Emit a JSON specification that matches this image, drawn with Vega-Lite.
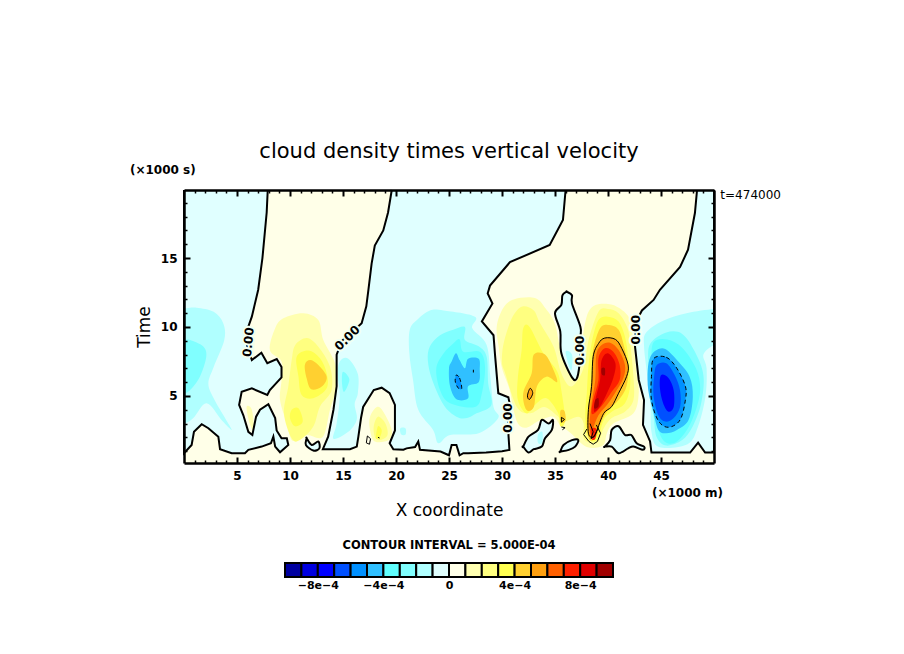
{"$schema":"https://vega.github.io/schema/vega-lite/v6.json","autosize":"none","padding":{"left":184,"top":190,"right":720,"bottom":464},"background":"white","config":{"font":"DejaVu Sans","view":{"stroke":null},"title":{"font":"DejaVu Sans","color":"black"},"axis":{"labelColor":"black","titleColor":"black","grid":false}},"bounds":"flush","center":true,"spacing":100,"datasets":{"polys":[
{"k":"base","v":0.5,"x":0,"y":0.14},{"k":"base","v":0.5,"x":50,"y":0.14},{"k":"base","v":0.5,"x":50,"y":19.93},{"k":"base","v":0.5,"x":0,"y":19.93},
{"k":"A","v":-0.5,"x":7.9,"y":19.93},{"k":"A","v":-0.5,"x":7.8,"y":18.3},{"k":"A","v":-0.5,"x":7.4,"y":15},{"k":"A","v":-0.5,"x":7,"y":12.7},{"k":"A","v":-0.5,"x":6.4,"y":10.75},{"k":"A","v":-0.5,"x":5.9,"y":9.66},{"k":"A","v":-0.5,"x":5.9,"y":8.8},{"k":"A","v":-0.5,"x":6.4,"y":7.6},{"k":"A","v":-0.5,"x":7.3,"y":8.14},{"k":"A","v":-0.5,"x":7.86,"y":7.37},{"k":"A","v":-0.5,"x":8.75,"y":7.68},{"k":"A","v":-0.5,"x":9.2,"y":7.1},{"k":"A","v":-0.5,"x":9.2,"y":6.35},{"k":"A","v":-0.5,"x":8.1,"y":5.43},{"k":"A","v":-0.5,"x":7.86,"y":5.07},{"k":"A","v":-0.5,"x":6.4,"y":5.55},{"k":"A","v":-0.5,"x":5.44,"y":5.3},{"k":"A","v":-0.5,"x":5.2,"y":4.35},{"k":"A","v":-0.5,"x":5.6,"y":3.6},{"k":"A","v":-0.5,"x":6.07,"y":2.4},{"k":"A","v":-0.5,"x":6.45,"y":2.17},{"k":"A","v":-0.5,"x":6.8,"y":3.5},{"k":"A","v":-0.5,"x":7.17,"y":4},{"k":"A","v":-0.5,"x":7.96,"y":4.4},{"k":"A","v":-0.5,"x":8.6,"y":3.4},{"k":"A","v":-0.5,"x":8.74,"y":2.5},{"k":"A","v":-0.5,"x":9.2,"y":1.93},{"k":"A","v":-0.5,"x":9.7,"y":1.93},{"k":"A","v":-0.5,"x":9.84,"y":1.45},{"k":"A","v":-0.5,"x":9.06,"y":0.92},{"k":"A","v":-0.5,"x":8.6,"y":1.33},{"k":"A","v":-0.5,"x":8.43,"y":2.05},{"k":"A","v":-0.5,"x":8.2,"y":1.57},{"k":"A","v":-0.5,"x":7.33,"y":1.33},{"k":"A","v":-0.5,"x":6.07,"y":1.09},{"k":"A","v":-0.5,"x":5.75,"y":0.85},{"k":"A","v":-0.5,"x":4.5,"y":0.85},{"k":"A","v":-0.5,"x":3.4,"y":1.14},{"k":"A","v":-0.5,"x":3.24,"y":2.05},{"k":"A","v":-0.5,"x":2.3,"y":2.66},{"k":"A","v":-0.5,"x":1.67,"y":2.95},{"k":"A","v":-0.5,"x":0.94,"y":2.4},{"k":"A","v":-0.5,"x":0.72,"y":1.45},{"k":"A","v":-0.5,"x":0,"y":0.85},{"k":"A","v":-0.5,"x":0,"y":19.93},
{"k":"B","v":-0.5,"x":19.6,"y":19.93},{"k":"B","v":-0.5,"x":19.25,"y":18.3},{"k":"B","v":-0.5,"x":18.8,"y":17},{"k":"B","v":-0.5,"x":18,"y":15.9},{"k":"B","v":-0.5,"x":17.7,"y":14.6},{"k":"B","v":-0.5,"x":17.4,"y":12.7},{"k":"B","v":-0.5,"x":17.2,"y":11.5},{"k":"B","v":-0.5,"x":16.76,"y":10.27},{"k":"B","v":-0.5,"x":15.66,"y":9.5},{"k":"B","v":-0.5,"x":14.9,"y":9},{"k":"B","v":-0.5,"x":14.4,"y":8},{"k":"B","v":-0.5,"x":14.4,"y":5.7},{"k":"B","v":-0.5,"x":14.1,"y":4},{"k":"B","v":-0.5,"x":13.6,"y":2.05},{"k":"B","v":-0.5,"x":13.1,"y":1.14},{"k":"B","v":-0.5,"x":15.66,"y":1.14},{"k":"B","v":-0.5,"x":16.3,"y":1.33},{"k":"B","v":-0.5,"x":16.45,"y":2.05},{"k":"B","v":-0.5,"x":16.7,"y":3.4},{"k":"B","v":-0.5,"x":16.9,"y":4.2},{"k":"B","v":-0.5,"x":17.9,"y":5.43},{"k":"B","v":-0.5,"x":18.65,"y":5.6},{"k":"B","v":-0.5,"x":19.4,"y":5.2},{"k":"B","v":-0.5,"x":19.9,"y":4.35},{"k":"B","v":-0.5,"x":19.9,"y":2.5},{"k":"B","v":-0.5,"x":19.4,"y":1.57},{"k":"B","v":-0.5,"x":19.75,"y":1.14},{"k":"B","v":-0.5,"x":20.7,"y":1.1},{"k":"B","v":-0.5,"x":21,"y":1.2},{"k":"B","v":-0.5,"x":21.8,"y":1.3},{"k":"B","v":-0.5,"x":22.1,"y":1.7},{"k":"B","v":-0.5,"x":22.26,"y":1.1},{"k":"B","v":-0.5,"x":24.2,"y":0.97},{"k":"B","v":-0.5,"x":25,"y":0.7},{"k":"B","v":-0.5,"x":25.25,"y":1.45},{"k":"B","v":-0.5,"x":25.7,"y":1.45},{"k":"B","v":-0.5,"x":26,"y":0.7},{"k":"B","v":-0.5,"x":26.35,"y":0.85},{"k":"B","v":-0.5,"x":26.8,"y":0.85},{"k":"B","v":-0.5,"x":28.5,"y":0.9},{"k":"B","v":-0.5,"x":30,"y":1},{"k":"B","v":-0.5,"x":30.7,"y":1.09},{"k":"B","v":-0.5,"x":30.6,"y":2.3},{"k":"B","v":-0.5,"x":30.6,"y":3.5},{"k":"B","v":-0.5,"x":30.75,"y":4.35},{"k":"B","v":-0.5,"x":30.6,"y":4.9},{"k":"B","v":-0.5,"x":29.65,"y":5.2},{"k":"B","v":-0.5,"x":29.34,"y":8},{"k":"B","v":-0.5,"x":29.2,"y":9.4},{"k":"B","v":-0.5,"x":28.1,"y":10.4},{"k":"B","v":-0.5,"x":29.1,"y":11.7},{"k":"B","v":-0.5,"x":28.65,"y":12.44},{"k":"B","v":-0.5,"x":28.87,"y":13},{"k":"B","v":-0.5,"x":30.75,"y":14.7},{"k":"B","v":-0.5,"x":34.5,"y":15.94},{"k":"B","v":-0.5,"x":35.75,"y":17.75},{"k":"B","v":-0.5,"x":36,"y":19.93},
{"k":"C","v":-0.5,"x":48.4,"y":19.93},{"k":"C","v":-0.5,"x":48.2,"y":18.26},{"k":"C","v":-0.5,"x":47.55,"y":15.6},{"k":"C","v":-0.5,"x":46.8,"y":14.35},{"k":"C","v":-0.5,"x":44.9,"y":12.7},{"k":"C","v":-0.5,"x":44.3,"y":11.96},{"k":"C","v":-0.5,"x":43.2,"y":11.2},{"k":"C","v":-0.5,"x":42.9,"y":10.75},{"k":"C","v":-0.5,"x":42.6,"y":9.5},{"k":"C","v":-0.5,"x":42.55,"y":8.57},{"k":"C","v":-0.5,"x":42.9,"y":6.16},{"k":"C","v":-0.5,"x":43.4,"y":4.7},{"k":"C","v":-0.5,"x":43.3,"y":2.9},{"k":"C","v":-0.5,"x":43.97,"y":1.7},{"k":"C","v":-0.5,"x":44.1,"y":0.9},{"k":"C","v":-0.5,"x":47.75,"y":0.9},{"k":"C","v":-0.5,"x":48.5,"y":1.62},{"k":"C","v":-0.5,"x":49.16,"y":0.9},{"k":"C","v":-0.5,"x":50,"y":0.9},{"k":"C","v":-0.5,"x":50,"y":19.93},
{"k":"D","v":-1.5,"x":0,"y":11.35},{"k":"D","v":-1.5,"x":1.2,"y":11.4},{"k":"D","v":-1.5,"x":2.8,"y":11.1},{"k":"D","v":-1.5,"x":3.7,"y":10.27},{"k":"D","v":-1.5,"x":3.8,"y":9.06},{"k":"D","v":-1.5,"x":2.8,"y":7.1},{"k":"D","v":-1.5,"x":2.3,"y":5.9},{"k":"D","v":-1.5,"x":2.8,"y":4.83},{"k":"D","v":-1.5,"x":3.87,"y":3.4},{"k":"D","v":-1.5,"x":4.5,"y":2.54},{"k":"D","v":-1.5,"x":3.6,"y":3.2},{"k":"D","v":-1.5,"x":2.14,"y":4.47},{"k":"D","v":-1.5,"x":0.88,"y":3.4},{"k":"D","v":-1.5,"x":0,"y":3},{"k":"D","v":-1.5,"x":-1,"y":3},{"k":"D","v":-1.5,"x":-1,"y":11.35},
{"k":"E","v":-2.5,"x":0,"y":9.06},{"k":"E","v":-2.5,"x":0.57,"y":9.06},{"k":"E","v":-2.5,"x":1.8,"y":8.6},{"k":"E","v":-2.5,"x":2.1,"y":7.85},{"k":"E","v":-2.5,"x":1.5,"y":6.4},{"k":"E","v":-2.5,"x":0.57,"y":5.43},{"k":"E","v":-2.5,"x":0,"y":5.2},{"k":"E","v":-2.5,"x":-1,"y":5.2},{"k":"E","v":-2.5,"x":-1,"y":9.06},
{"k":"F","v":-1.5,"x":14.7,"y":7.5},{"k":"F","v":-1.5,"x":15.5,"y":7.7},{"k":"F","v":-1.5,"x":16.4,"y":6.6},{"k":"F","v":-1.5,"x":16.4,"y":5.2},{"k":"F","v":-1.5,"x":16.1,"y":4.4},{"k":"F","v":-1.5,"x":16.3,"y":3.3},{"k":"F","v":-1.5,"x":15.5,"y":2.4},{"k":"F","v":-1.5,"x":14.1,"y":1.9},{"k":"F","v":-1.5,"x":14.4,"y":3},{"k":"F","v":-1.5,"x":14.7,"y":5},{"k":"F","v":-1.5,"x":14.5,"y":6.5},
{"k":"G","v":-2.5,"x":15,"y":6.76},{"k":"G","v":-2.5,"x":15.6,"y":6.2},{"k":"G","v":-2.5,"x":15.1,"y":5.3},{"k":"G","v":-2.5,"x":14.9,"y":6},
{"k":"H","v":-1.5,"x":20.4,"y":2.65},{"k":"H","v":-1.5,"x":20.9,"y":2.65},{"k":"H","v":-1.5,"x":20.9,"y":2.2},{"k":"H","v":-1.5,"x":20.5,"y":2.2},
{"k":"M1","v":-1.5,"x":23.2,"y":11.2},{"k":"M1","v":-1.5,"x":24.5,"y":11.2},{"k":"M1","v":-1.5,"x":27.45,"y":10.75},{"k":"M1","v":-1.5,"x":27.2,"y":9.9},{"k":"M1","v":-1.5,"x":28.55,"y":8.7},{"k":"M1","v":-1.5,"x":28.9,"y":6.4},{"k":"M1","v":-1.5,"x":29.2,"y":4.2},{"k":"M1","v":-1.5,"x":29.65,"y":3.4},{"k":"M1","v":-1.5,"x":27.8,"y":2.3},{"k":"M1","v":-1.5,"x":25.1,"y":2.17},{"k":"M1","v":-1.5,"x":24,"y":1.57},{"k":"M1","v":-1.5,"x":23.5,"y":2.54},{"k":"M1","v":-1.5,"x":22.1,"y":4},{"k":"M1","v":-1.5,"x":21.6,"y":6.2},{"k":"M1","v":-1.5,"x":21.26,"y":8.1},{"k":"M1","v":-1.5,"x":21.3,"y":9.8},{"k":"M1","v":-1.5,"x":22.1,"y":10.6},
{"k":"M2","v":-2.5,"x":26.5,"y":10},{"k":"M2","v":-2.5,"x":26.5,"y":9.06},{"k":"M2","v":-2.5,"x":27.8,"y":8.6},{"k":"M2","v":-2.5,"x":28.55,"y":7.85},{"k":"M2","v":-2.5,"x":28.7,"y":5.9},{"k":"M2","v":-2.5,"x":29,"y":4.35},{"k":"M2","v":-2.5,"x":27.6,"y":3.74},{"k":"M2","v":-2.5,"x":26.7,"y":3.4},{"k":"M2","v":-2.5,"x":25.7,"y":3.5},{"k":"M2","v":-2.5,"x":24.5,"y":4.35},{"k":"M2","v":-2.5,"x":23.4,"y":6.2},{"k":"M2","v":-2.5,"x":23,"y":7.6},{"k":"M2","v":-2.5,"x":23.2,"y":8.6},{"k":"M2","v":-2.5,"x":24.15,"y":9.4},{"k":"M2","v":-2.5,"x":25.4,"y":9.8},
{"k":"M3","v":-3.5,"x":26,"y":9.1},{"k":"M3","v":-3.5,"x":26.35,"y":8.2},{"k":"M3","v":-3.5,"x":27.9,"y":8.2},{"k":"M3","v":-3.5,"x":28.4,"y":7.1},{"k":"M3","v":-3.5,"x":28.1,"y":5.2},{"k":"M3","v":-3.5,"x":27.45,"y":4.2},{"k":"M3","v":-3.5,"x":25.1,"y":4.47},{"k":"M3","v":-3.5,"x":24.15,"y":5.43},{"k":"M3","v":-3.5,"x":23.8,"y":7},{"k":"M3","v":-3.5,"x":24.5,"y":8.1},{"k":"M3","v":-3.5,"x":25.4,"y":8.8},
{"k":"M4","v":-4.5,"x":25.66,"y":8.1},{"k":"M4","v":-4.5,"x":26,"y":7.6},{"k":"M4","v":-4.5,"x":26.5,"y":7},{"k":"M4","v":-4.5,"x":26.8,"y":7.7},{"k":"M4","v":-4.5,"x":27.8,"y":7.7},{"k":"M4","v":-4.5,"x":27.9,"y":6.9},{"k":"M4","v":-4.5,"x":27.8,"y":6},{"k":"M4","v":-4.5,"x":26.8,"y":5.7},{"k":"M4","v":-4.5,"x":26.8,"y":4.83},{"k":"M4","v":-4.5,"x":25.7,"y":4.76},{"k":"M4","v":-4.5,"x":25.1,"y":5.7},{"k":"M4","v":-4.5,"x":25,"y":7},{"k":"M4","v":-4.5,"x":25.25,"y":7.5},
{"k":"M5","v":-5.5,"x":25.66,"y":6.5},{"k":"M5","v":-5.5,"x":26,"y":6.3},{"k":"M5","v":-5.5,"x":26.2,"y":5.55},{"k":"M5","v":-5.5,"x":25.9,"y":5.55},{"k":"M5","v":-5.5,"x":25.6,"y":6},
{"k":"R1","v":-1.5,"x":51,"y":11.3},{"k":"R1","v":-1.5,"x":50,"y":11.3},{"k":"R1","v":-1.5,"x":47.4,"y":11},{"k":"R1","v":-1.5,"x":45.2,"y":10.46},{"k":"R1","v":-1.5,"x":43.6,"y":9.6},{"k":"R1","v":-1.5,"x":43.4,"y":8.6},{"k":"R1","v":-1.5,"x":43.7,"y":6.5},{"k":"R1","v":-1.5,"x":44,"y":4.5},{"k":"R1","v":-1.5,"x":44.1,"y":2.4},{"k":"R1","v":-1.5,"x":44.8,"y":1.3},{"k":"R1","v":-1.5,"x":47.5,"y":1.5},{"k":"R1","v":-1.5,"x":48.5,"y":2.8},{"k":"R1","v":-1.5,"x":49.2,"y":5},{"k":"R1","v":-1.5,"x":49.3,"y":7},{"k":"R1","v":-1.5,"x":49,"y":8},{"k":"R1","v":-1.5,"x":50,"y":8.7},{"k":"R1","v":-1.5,"x":51,"y":8.7},
{"k":"R2","v":-2.5,"x":45.5,"y":9.6},{"k":"R2","v":-2.5,"x":47,"y":9.5},{"k":"R2","v":-2.5,"x":48.2,"y":8.2},{"k":"R2","v":-2.5,"x":49,"y":6.5},{"k":"R2","v":-2.5,"x":48.8,"y":4.5},{"k":"R2","v":-2.5,"x":48,"y":2.8},{"k":"R2","v":-2.5,"x":47,"y":1.8},{"k":"R2","v":-2.5,"x":45.5,"y":1.4},{"k":"R2","v":-2.5,"x":44.6,"y":2},{"k":"R2","v":-2.5,"x":44.3,"y":3.5},{"k":"R2","v":-2.5,"x":44,"y":5.5},{"k":"R2","v":-2.5,"x":43.8,"y":7.5},{"k":"R2","v":-2.5,"x":44,"y":8.8},
{"k":"R3","v":-3.5,"x":44.3,"y":8.9},{"k":"R3","v":-3.5,"x":45.6,"y":9.1},{"k":"R3","v":-3.5,"x":47,"y":8.5},{"k":"R3","v":-3.5,"x":48.3,"y":7},{"k":"R3","v":-3.5,"x":48.7,"y":5.5},{"k":"R3","v":-3.5,"x":48.3,"y":4},{"k":"R3","v":-3.5,"x":47.5,"y":2.6},{"k":"R3","v":-3.5,"x":46.5,"y":1.7},{"k":"R3","v":-3.5,"x":45.5,"y":1.6},{"k":"R3","v":-3.5,"x":44.8,"y":2.4},{"k":"R3","v":-3.5,"x":44.5,"y":4},{"k":"R3","v":-3.5,"x":44.2,"y":6},{"k":"R3","v":-3.5,"x":44.1,"y":7.5},
{"k":"R4","v":-4.5,"x":44,"y":7.85},{"k":"R4","v":-4.5,"x":44.6,"y":8.33},{"k":"R4","v":-4.5,"x":45.4,"y":8.4},{"k":"R4","v":-4.5,"x":46.5,"y":7.6},{"k":"R4","v":-4.5,"x":47.7,"y":6.4},{"k":"R4","v":-4.5,"x":48,"y":4.95},{"k":"R4","v":-4.5,"x":47.6,"y":3.26},{"k":"R4","v":-4.5,"x":46.5,"y":2.54},{"k":"R4","v":-4.5,"x":45.5,"y":2.3},{"k":"R4","v":-4.5,"x":44.75,"y":2.54},{"k":"R4","v":-4.5,"x":44.3,"y":3.74},{"k":"R4","v":-4.5,"x":43.8,"y":5.4},{"k":"R4","v":-4.5,"x":43.75,"y":6.9},
{"k":"R5","v":-5.5,"x":44.3,"y":7.7},{"k":"R5","v":-5.5,"x":45.5,"y":7.8},{"k":"R5","v":-5.5,"x":46.5,"y":7},{"k":"R5","v":-5.5,"x":47.3,"y":5.7},{"k":"R5","v":-5.5,"x":47.3,"y":4.7},{"k":"R5","v":-5.5,"x":46.8,"y":3.26},{"k":"R5","v":-5.5,"x":45.7,"y":2.73},{"k":"R5","v":-5.5,"x":44.75,"y":3.2},{"k":"R5","v":-5.5,"x":44.1,"y":4.7},{"k":"R5","v":-5.5,"x":44.1,"y":6.4},
{"k":"R6","v":-6.5,"x":44.6,"y":7.25},{"k":"R6","v":-6.5,"x":45.5,"y":7.37},{"k":"R6","v":-6.5,"x":46.3,"y":6.5},{"k":"R6","v":-6.5,"x":46.8,"y":5.4},{"k":"R6","v":-6.5,"x":46.8,"y":4.2},{"k":"R6","v":-6.5,"x":46.2,"y":3.4},{"k":"R6","v":-6.5,"x":45.4,"y":3.14},{"k":"R6","v":-6.5,"x":44.75,"y":3.6},{"k":"R6","v":-6.5,"x":44.3,"y":5},{"k":"R6","v":-6.5,"x":44.35,"y":6.4},
{"k":"R7","v":-7.5,"x":45,"y":6.5},{"k":"R7","v":-7.5,"x":45.7,"y":6.3},{"k":"R7","v":-7.5,"x":46.2,"y":5.4},{"k":"R7","v":-7.5,"x":46.2,"y":4.2},{"k":"R7","v":-7.5,"x":45.7,"y":3.86},{"k":"R7","v":-7.5,"x":45.2,"y":4.47},{"k":"R7","v":-7.5,"x":44.9,"y":5.55},
{"k":"a1","v":1.5,"x":9.37,"y":10.63},{"k":"a1","v":1.5,"x":11.26,"y":11},{"k":"a1","v":1.5,"x":12.67,"y":10.5},{"k":"a1","v":1.5,"x":13.14,"y":9.06},{"k":"a1","v":1.5,"x":14.25,"y":7.37},{"k":"a1","v":1.5,"x":14.4,"y":5.68},{"k":"a1","v":1.5,"x":13.77,"y":4},{"k":"a1","v":1.5,"x":13.1,"y":2.05},{"k":"a1","v":1.5,"x":11.66,"y":2.17},{"k":"a1","v":1.5,"x":10.8,"y":1.93},{"k":"a1","v":1.5,"x":10.16,"y":1.8},{"k":"a1","v":1.5,"x":9.7,"y":3},{"k":"a1","v":1.5,"x":9.06,"y":4.7},{"k":"a1","v":1.5,"x":9.2,"y":6.16},{"k":"a1","v":1.5,"x":9.2,"y":7.5},{"k":"a1","v":1.5,"x":8.1,"y":8.33},{"k":"a1","v":1.5,"x":8.6,"y":9.9},
{"k":"a2","v":2.5,"x":10.5,"y":8.7},{"k":"a2","v":2.5,"x":11.6,"y":9.2},{"k":"a2","v":2.5,"x":12.67,"y":8.57},{"k":"a2","v":2.5,"x":13.77,"y":7.13},{"k":"a2","v":2.5,"x":13.93,"y":5.43},{"k":"a2","v":2.5,"x":12.83,"y":4.23},{"k":"a2","v":2.5,"x":12.2,"y":2.78},{"k":"a2","v":2.5,"x":10.94,"y":1.8},{"k":"a2","v":2.5,"x":10.16,"y":1.93},{"k":"a2","v":2.5,"x":9.43,"y":3.74},{"k":"a2","v":2.5,"x":9.84,"y":5.68},{"k":"a2","v":2.5,"x":10.16,"y":7.6},
{"k":"a3","v":3.5,"x":10.63,"y":7.85},{"k":"a3","v":3.5,"x":11.73,"y":8.3},{"k":"a3","v":3.5,"x":12.83,"y":7.73},{"k":"a3","v":3.5,"x":13.46,"y":6.64},{"k":"a3","v":3.5,"x":13.46,"y":5.55},{"k":"a3","v":3.5,"x":12.2,"y":4.83},{"k":"a3","v":3.5,"x":11.1,"y":5.07},{"k":"a3","v":3.5,"x":10.8,"y":6.4},
{"k":"a3b","v":3.5,"x":10.16,"y":4},{"k":"a3b","v":3.5,"x":10.8,"y":4.1},{"k":"a3b","v":3.5,"x":11.2,"y":3.14},{"k":"a3b","v":3.5,"x":10.47,"y":2.8},{"k":"a3b","v":3.5,"x":10,"y":3.38},
{"k":"a4","v":4.5,"x":11.4,"y":7.25},{"k":"a4","v":4.5,"x":11.9,"y":7.6},{"k":"a4","v":4.5,"x":12.67,"y":7.25},{"k":"a4","v":4.5,"x":13.46,"y":6.4},{"k":"a4","v":4.5,"x":13,"y":5.68},{"k":"a4","v":4.5,"x":12,"y":5.48},{"k":"a4","v":4.5,"x":11.57,"y":6.28},
{"k":"t1","v":1.5,"x":5.9,"y":4.2},{"k":"t1","v":1.5,"x":6.4,"y":4},{"k":"t1","v":1.5,"x":6.6,"y":2.5},{"k":"t1","v":1.5,"x":6.2,"y":3},
{"k":"h1","v":1.5,"x":18.2,"y":4.2},{"k":"h1","v":1.5,"x":18.8,"y":3.86},{"k":"h1","v":1.5,"x":19.6,"y":2.54},{"k":"h1","v":1.5,"x":19.3,"y":1.8},{"k":"h1","v":1.5,"x":18,"y":1.7},{"k":"h1","v":1.5,"x":17.55,"y":2.54},{"k":"h1","v":1.5,"x":17.55,"y":3.5},
{"k":"h2","v":2.5,"x":18.3,"y":3.5},{"k":"h2","v":2.5,"x":19,"y":3},{"k":"h2","v":2.5,"x":19.2,"y":2.17},{"k":"h2","v":2.5,"x":18.5,"y":1.8},{"k":"h2","v":2.5,"x":18,"y":2.05},{"k":"h2","v":2.5,"x":17.9,"y":2.8},
{"k":"h3","v":3.5,"x":18.3,"y":2.8},{"k":"h3","v":3.5,"x":18.65,"y":2.54},{"k":"h3","v":3.5,"x":18.5,"y":2.05},{"k":"h3","v":3.5,"x":18.1,"y":1.93},
{"k":"c1","v":1.5,"x":30.1,"y":11.35},{"k":"c1","v":1.5,"x":31.1,"y":12},{"k":"c1","v":1.5,"x":33.1,"y":12.1},{"k":"c1","v":1.5,"x":34.1,"y":11.35},{"k":"c1","v":1.5,"x":35,"y":10.2},{"k":"c1","v":1.5,"x":35.6,"y":8.1},{"k":"c1","v":1.5,"x":36.6,"y":6.3},{"k":"c1","v":1.5,"x":37.1,"y":6.3},{"k":"c1","v":1.5,"x":37.4,"y":8},{"k":"c1","v":1.5,"x":37.9,"y":10.5},{"k":"c1","v":1.5,"x":38.6,"y":11.5},{"k":"c1","v":1.5,"x":40,"y":11.67},{"k":"c1","v":1.5,"x":41.1,"y":11.35},{"k":"c1","v":1.5,"x":42.1,"y":10.5},{"k":"c1","v":1.5,"x":42.4,"y":8.8},{"k":"c1","v":1.5,"x":42.7,"y":6.6},{"k":"c1","v":1.5,"x":42.9,"y":5.2},{"k":"c1","v":1.5,"x":42.4,"y":3.74},{"k":"c1","v":1.5,"x":40.5,"y":3},{"k":"c1","v":1.5,"x":39.9,"y":2.3},{"k":"c1","v":1.5,"x":39.5,"y":1.4},{"k":"c1","v":1.5,"x":38,"y":1.3},{"k":"c1","v":1.5,"x":36.5,"y":2.3},{"k":"c1","v":1.5,"x":35.5,"y":2.9},{"k":"c1","v":1.5,"x":34.8,"y":3.5},{"k":"c1","v":1.5,"x":33.5,"y":3.2},{"k":"c1","v":1.5,"x":32.3,"y":2.7},{"k":"c1","v":1.5,"x":31.5,"y":3},{"k":"c1","v":1.5,"x":31,"y":4.3},{"k":"c1","v":1.5,"x":30.7,"y":5.5},{"k":"c1","v":1.5,"x":30,"y":7},{"k":"c1","v":1.5,"x":29.7,"y":8.5},{"k":"c1","v":1.5,"x":29.5,"y":10},
{"k":"c2","v":2.5,"x":31.2,"y":11},{"k":"c2","v":2.5,"x":32,"y":11.5},{"k":"c2","v":2.5,"x":33,"y":11.2},{"k":"c2","v":2.5,"x":33.6,"y":10.27},{"k":"c2","v":2.5,"x":34.85,"y":8.6},{"k":"c2","v":2.5,"x":35.6,"y":6.64},{"k":"c2","v":2.5,"x":36.4,"y":5.7},{"k":"c2","v":2.5,"x":37.2,"y":6.2},{"k":"c2","v":2.5,"x":37.85,"y":7.4},{"k":"c2","v":2.5,"x":38.15,"y":9},{"k":"c2","v":2.5,"x":39.1,"y":11.1},{"k":"c2","v":2.5,"x":40,"y":11.3},{"k":"c2","v":2.5,"x":41,"y":11},{"k":"c2","v":2.5,"x":41.8,"y":10},{"k":"c2","v":2.5,"x":42.1,"y":8.8},{"k":"c2","v":2.5,"x":42.4,"y":6.4},{"k":"c2","v":2.5,"x":42.4,"y":4.7},{"k":"c2","v":2.5,"x":41.6,"y":3.86},{"k":"c2","v":2.5,"x":40.35,"y":3.4},{"k":"c2","v":2.5,"x":39.6,"y":2.66},{"k":"c2","v":2.5,"x":39.1,"y":1.7},{"k":"c2","v":2.5,"x":38.5,"y":1.57},{"k":"c2","v":2.5,"x":37.7,"y":1.93},{"k":"c2","v":2.5,"x":37.7,"y":3},{"k":"c2","v":2.5,"x":37.2,"y":3.5},{"k":"c2","v":2.5,"x":35.8,"y":3.14},{"k":"c2","v":2.5,"x":35.3,"y":3.5},{"k":"c2","v":2.5,"x":34,"y":4.2},{"k":"c2","v":2.5,"x":32.65,"y":3.74},{"k":"c2","v":2.5,"x":31.4,"y":4.2},{"k":"c2","v":2.5,"x":30.3,"y":6.64},{"k":"c2","v":2.5,"x":30,"y":7.4},{"k":"c2","v":2.5,"x":30.1,"y":8.6},{"k":"c2","v":2.5,"x":30.6,"y":10},
{"k":"c3","v":3.5,"x":32,"y":9.9},{"k":"c3","v":3.5,"x":32.6,"y":10},{"k":"c3","v":3.5,"x":33.9,"y":8.1},{"k":"c3","v":3.5,"x":35.2,"y":6.8},{"k":"c3","v":3.5,"x":35.6,"y":5.4},{"k":"c3","v":3.5,"x":35.95,"y":3.26},{"k":"c3","v":3.5,"x":35.5,"y":2.8},{"k":"c3","v":3.5,"x":35.3,"y":3.74},{"k":"c3","v":3.5,"x":34.2,"y":4.83},{"k":"c3","v":3.5,"x":33.1,"y":4.35},{"k":"c3","v":3.5,"x":32.3,"y":3.74},{"k":"c3","v":3.5,"x":31.5,"y":4.7},{"k":"c3","v":3.5,"x":31.5,"y":6.4},{"k":"c3","v":3.5,"x":31.85,"y":8.3},
{"k":"d3","v":3.5,"x":39.1,"y":10.5},{"k":"d3","v":3.5,"x":40,"y":10.75},{"k":"d3","v":3.5,"x":41,"y":10.4},{"k":"d3","v":3.5,"x":41.6,"y":9.3},{"k":"d3","v":3.5,"x":41.9,"y":7.85},{"k":"d3","v":3.5,"x":42.1,"y":5.9},{"k":"d3","v":3.5,"x":41.6,"y":4.47},{"k":"d3","v":3.5,"x":40.35,"y":3.86},{"k":"d3","v":3.5,"x":39.6,"y":3.26},{"k":"d3","v":3.5,"x":39.1,"y":2.05},{"k":"d3","v":3.5,"x":38.6,"y":1.7},{"k":"d3","v":3.5,"x":38,"y":2.3},{"k":"d3","v":3.5,"x":37.85,"y":3.74},{"k":"d3","v":3.5,"x":38,"y":5.2},{"k":"d3","v":3.5,"x":38.15,"y":7.1},{"k":"d3","v":3.5,"x":38.5,"y":9},
{"k":"c4","v":4.5,"x":33,"y":8},{"k":"c4","v":4.5,"x":34.06,"y":8},{"k":"c4","v":4.5,"x":34.85,"y":6.9},{"k":"c4","v":4.5,"x":35.2,"y":6},{"k":"c4","v":4.5,"x":34.2,"y":6.4},{"k":"c4","v":4.5,"x":33.3,"y":5.7},{"k":"c4","v":4.5,"x":33,"y":4.2},{"k":"c4","v":4.5,"x":32.3,"y":4},{"k":"c4","v":4.5,"x":32,"y":5.2},{"k":"c4","v":4.5,"x":32.8,"y":6.64},
{"k":"c4b","v":4.5,"x":35.5,"y":3.9},{"k":"c4b","v":4.5,"x":35.9,"y":3.9},{"k":"c4b","v":4.5,"x":36,"y":3.2},{"k":"c4b","v":4.5,"x":35.6,"y":3.1},
{"k":"c5","v":5.5,"x":32.65,"y":5.55},{"k":"c5","v":5.5,"x":32.9,"y":5.2},{"k":"c5","v":5.5,"x":32.6,"y":4.75},{"k":"c5","v":5.5,"x":32.4,"y":5},
{"k":"d4","v":4.5,"x":39.25,"y":9.9},{"k":"d4","v":4.5,"x":40,"y":10.15},{"k":"d4","v":4.5,"x":41,"y":9.8},{"k":"d4","v":4.5,"x":41.6,"y":8.33},{"k":"d4","v":4.5,"x":41.9,"y":7.1},{"k":"d4","v":4.5,"x":41.75,"y":5.7},{"k":"d4","v":4.5,"x":41,"y":4.7},{"k":"d4","v":4.5,"x":39.9,"y":3.86},{"k":"d4","v":4.5,"x":39.25,"y":2.9},{"k":"d4","v":4.5,"x":38.9,"y":2.05},{"k":"d4","v":4.5,"x":38.3,"y":1.8},{"k":"d4","v":4.5,"x":38,"y":2.8},{"k":"d4","v":4.5,"x":38.15,"y":4.2},{"k":"d4","v":4.5,"x":38.45,"y":6.4},{"k":"d4","v":4.5,"x":38.6,"y":8.33},
{"k":"d5","v":5.5,"x":38.6,"y":7.85},{"k":"d5","v":5.5,"x":39.1,"y":8.8},{"k":"d5","v":5.5,"x":39.7,"y":9.2},{"k":"d5","v":5.5,"x":40.7,"y":9.1},{"k":"d5","v":5.5,"x":41.3,"y":8.45},{"k":"d5","v":5.5,"x":41.9,"y":7.25},{"k":"d5","v":5.5,"x":41.75,"y":6.4},{"k":"d5","v":5.5,"x":41,"y":5.2},{"k":"d5","v":5.5,"x":40.35,"y":4.23},{"k":"d5","v":5.5,"x":39.6,"y":3.74},{"k":"d5","v":5.5,"x":38.9,"y":2.4},{"k":"d5","v":5.5,"x":38.6,"y":2},{"k":"d5","v":5.5,"x":38.15,"y":2.3},{"k":"d5","v":5.5,"x":38.15,"y":4},{"k":"d5","v":5.5,"x":38.45,"y":5.7},
{"k":"d6","v":6.5,"x":38.9,"y":8},{"k":"d6","v":6.5,"x":39.4,"y":8.7},{"k":"d6","v":6.5,"x":40.2,"y":8.86},{"k":"d6","v":6.5,"x":41,"y":8.33},{"k":"d6","v":6.5,"x":41.6,"y":7.25},{"k":"d6","v":6.5,"x":41.45,"y":6.3},{"k":"d6","v":6.5,"x":40.65,"y":5.2},{"k":"d6","v":6.5,"x":39.9,"y":4.35},{"k":"d6","v":6.5,"x":39.1,"y":3.6},{"k":"d6","v":6.5,"x":38.6,"y":2.66},{"k":"d6","v":6.5,"x":38.45,"y":2.17},{"k":"d6","v":6.5,"x":38.25,"y":2.8},{"k":"d6","v":6.5,"x":38.45,"y":4.47},{"k":"d6","v":6.5,"x":38.8,"y":6.16},
{"k":"d7","v":7.5,"x":39.1,"y":7.73},{"k":"d7","v":7.5,"x":39.7,"y":8.45},{"k":"d7","v":7.5,"x":40.5,"y":8.2},{"k":"d7","v":7.5,"x":41.1,"y":7.25},{"k":"d7","v":7.5,"x":41.1,"y":6.16},{"k":"d7","v":7.5,"x":40.35,"y":5.3},{"k":"d7","v":7.5,"x":39.6,"y":4.47},{"k":"d7","v":7.5,"x":38.9,"y":3.86},{"k":"d7","v":7.5,"x":38.45,"y":3.74},{"k":"d7","v":7.5,"x":38.6,"y":4.7},{"k":"d7","v":7.5,"x":39.1,"y":6.16},
{"k":"d7b","v":7.5,"x":38.4,"y":2.6},{"k":"d7b","v":7.5,"x":38.9,"y":2.6},{"k":"d7b","v":7.5,"x":38.8,"y":1.9},{"k":"d7b","v":7.5,"x":38.45,"y":1.9},
{"k":"d8","v":8.5,"x":39.4,"y":7.6},{"k":"d8","v":8.5,"x":40,"y":8.1},{"k":"d8","v":8.5,"x":40.7,"y":7.37},{"k":"d8","v":8.5,"x":40.5,"y":6.3},{"k":"d8","v":8.5,"x":39.9,"y":5.2},{"k":"d8","v":8.5,"x":39.25,"y":4.23},{"k":"d8","v":8.5,"x":38.7,"y":3.86},{"k":"d8","v":8.5,"x":38.8,"y":4.7},{"k":"d8","v":8.5,"x":39.25,"y":6.16},
{"k":"d9","v":9.5,"x":39.4,"y":7},{"k":"d9","v":9.5,"x":39.7,"y":7},{"k":"d9","v":9.5,"x":39.7,"y":6.5},{"k":"d9","v":9.5,"x":39.4,"y":6.6},
{"k":"d9b","v":9.5,"x":38.8,"y":4.7},{"k":"d9b","v":9.5,"x":39.1,"y":4.83},{"k":"d9b","v":9.5,"x":39.1,"y":4.23},{"k":"d9b","v":9.5,"x":38.7,"y":4.1},
{"k":"I1","v":-0.5,"x":32,"y":1.33},{"k":"I1","v":-0.5,"x":32.5,"y":2.05},{"k":"I1","v":-0.5,"x":33.4,"y":2.54},{"k":"I1","v":-0.5,"x":33.75,"y":3.26},{"k":"I1","v":-0.5,"x":34.4,"y":3},{"k":"I1","v":-0.5,"x":34.8,"y":3.26},{"k":"I1","v":-0.5,"x":34.7,"y":2.54},{"k":"I1","v":-0.5,"x":34.06,"y":1.93},{"k":"I1","v":-0.5,"x":33.75,"y":1.33},{"k":"I1","v":-0.5,"x":33,"y":1.14},{"k":"I1","v":-0.5,"x":32.5,"y":0.9},{"k":"I1","v":-0.5,"x":32,"y":1.33},
{"k":"I2","v":-0.5,"x":35.5,"y":0.97},{"k":"I2","v":-0.5,"x":35.8,"y":1.45},{"k":"I2","v":-0.5,"x":36.6,"y":1.8},{"k":"I2","v":-0.5,"x":37.2,"y":1.8},{"k":"I2","v":-0.5,"x":36.9,"y":1.33},{"k":"I2","v":-0.5,"x":36.3,"y":1.09},{"k":"I2","v":-0.5,"x":35.5,"y":0.97},
{"k":"I3","v":-0.5,"x":36.1,"y":12.56},{"k":"I3","v":-0.5,"x":36.6,"y":12.3},{"k":"I3","v":-0.5,"x":36.6,"y":11.7},{"k":"I3","v":-0.5,"x":37.4,"y":10},{"k":"I3","v":-0.5,"x":37.4,"y":9.3},{"k":"I3","v":-0.5,"x":37.4,"y":8},{"k":"I3","v":-0.5,"x":37.1,"y":6.35},{"k":"I3","v":-0.5,"x":36.6,"y":6.35},{"k":"I3","v":-0.5,"x":35.6,"y":8.1},{"k":"I3","v":-0.5,"x":35.5,"y":9.66},{"k":"I3","v":-0.5,"x":35,"y":11},{"k":"I3","v":-0.5,"x":35.6,"y":11.6},{"k":"I3","v":-0.5,"x":35.7,"y":12.3},{"k":"I3","v":-0.5,"x":36.1,"y":12.56},
{"k":"I4","v":-0.5,"x":39.7,"y":1.33},{"k":"I4","v":-0.5,"x":40.2,"y":1.8},{"k":"I4","v":-0.5,"x":40.35,"y":2.54},{"k":"I4","v":-0.5,"x":41,"y":2.8},{"k":"I4","v":-0.5,"x":41.6,"y":2.17},{"k":"I4","v":-0.5,"x":42.2,"y":2.17},{"k":"I4","v":-0.5,"x":42.7,"y":1.57},{"k":"I4","v":-0.5,"x":43.4,"y":1.33},{"k":"I4","v":-0.5,"x":43.3,"y":1.1},{"k":"I4","v":-0.5,"x":42.4,"y":1.33},{"k":"I4","v":-0.5,"x":41.9,"y":1.2},{"k":"I4","v":-0.5,"x":41,"y":0.85},{"k":"I4","v":-0.5,"x":40.35,"y":1.33},{"k":"I4","v":-0.5,"x":39.7,"y":1.33},
{"k":"I5","v":-0.5,"x":11.57,"y":1.93},{"k":"I5","v":-0.5,"x":12.05,"y":1.45},{"k":"I5","v":-0.5,"x":12.67,"y":1.7},{"k":"I5","v":-0.5,"x":12.77,"y":1.2},{"k":"I5","v":-0.5,"x":12.2,"y":1.04},{"k":"I5","v":-0.5,"x":11.5,"y":1.45},{"k":"I5","v":-0.5,"x":11.57,"y":1.93},
{"k":"I6","v":-1.5,"x":33.4,"y":2.2},{"k":"I6","v":-1.5,"x":33.8,"y":2.4},{"k":"I6","v":-1.5,"x":33.8,"y":1.6},{"k":"I6","v":-1.5,"x":33.4,"y":1.6},
{"k":"I7","v":-1.5,"x":36,"y":8.2},{"k":"I7","v":-1.5,"x":36.6,"y":8},{"k":"I7","v":-1.5,"x":36.6,"y":7},{"k":"I7","v":-1.5,"x":36.4,"y":7}
],"loops":[
{"k":"z1","x":17.3,"y":2.1},{"k":"z1","x":17.6,"y":1.9},{"k":"z1","x":17.5,"y":1.5},{"k":"z1","x":17.2,"y":1.6},{"k":"z1","x":17.3,"y":2.1},
{"k":"t1","x":35.6,"y":3.45},{"k":"t1","x":35.9,"y":3.3},{"k":"t1","x":35.6,"y":3.1},{"k":"t1","x":35.6,"y":3.45},
{"k":"t2","x":35.6,"y":2.75},{"k":"t2","x":35.95,"y":2.7},{"k":"t2","x":35.7,"y":2.55},
{"k":"t3","x":38,"y":2.6},{"k":"t3","x":37.7,"y":2.2},{"k":"t3","x":38.2,"y":1.7},{"k":"t3","x":38.6,"y":1.5},{"k":"t3","x":39,"y":1.7},{"k":"t3","x":39.3,"y":2.3},{"k":"t3","x":38.9,"y":2.9},
{"k":"t4","x":38.3,"y":3},{"k":"t4","x":38.6,"y":2.4},{"k":"t4","x":38.4,"y":1.9},{"k":"t4","x":38.8,"y":2.2},{"k":"t4","x":39.1,"y":2.7},
{"k":"t5","x":27.3,"y":6.9},{"k":"t5","x":27.3,"y":6.7},
{"k":"t6","x":18.3,"y":2},{"k":"t6","x":18.45,"y":1.95}
],"labels":[
{"t":"0.00","x":6.07,"y":8.9,"a":-85},{"t":"0.00","x":15.4,"y":9.2,"a":-45},{"t":"0.00","x":30.6,"y":3.4,"a":-90},{"t":"0.00","x":37.4,"y":8.3,"a":-90},{"t":"0.00","x":42.65,"y":9.8,"a":-90}
],"notes":[
{"t":"(×1000 s)","x":-2,"y":21.4,"al":"center"},{"t":"(×1000 m)","x":47.5,"y":-2,"al":"center"},{"t":"t=474000","x":50.6,"y":19.6,"al":"left"}
],"bar":[
{"a":-10,"b":-9,"v":-9.5},{"a":-9,"b":-8,"v":-8.5},{"a":-8,"b":-7,"v":-7.5},{"a":-7,"b":-6,"v":-6.5},{"a":-6,"b":-5,"v":-5.5},{"a":-5,"b":-4,"v":-4.5},{"a":-4,"b":-3,"v":-3.5},{"a":-3,"b":-2,"v":-2.5},{"a":-2,"b":-1,"v":-1.5},{"a":-1,"b":0,"v":-0.5},{"a":0,"b":1,"v":0.5},{"a":1,"b":2,"v":1.5},{"a":2,"b":3,"v":2.5},{"a":3,"b":4,"v":3.5},{"a":4,"b":5,"v":4.5},{"a":5,"b":6,"v":5.5},{"a":6,"b":7,"v":6.5},{"a":7,"b":8,"v":7.5},{"a":8,"b":9,"v":8.5},{"a":9,"b":10,"v":9.5}
],"frame":[{"x":0,"y":0.14}]},
"vconcat":[
{"width":530,"height":273,"title":{"text":"cloud density times vertical velocity","fontSize":21,"fontWeight":"normal","anchor":"middle","frame":"group","offset":2},
"resolve":{"axis":{"x":"independent","y":"independent"}},
"layer":[
{"data":{"name":"polys"},"transform":[{"window":[{"op":"row_number","as":"i"}]},{"filter":{"field":"k","oneOf":["base","A","B","C"]}}],"mark":{"type":"line","filled":true,"strokeWidth":0},"encoding":{"order":{"field":"i","type":"quantitative"},"detail":{"field":"k"},"x":{"field":"x","type":"quantitative","scale":{"domain":[0,50],"nice":false,"zero":false},"axis":null},"y":{"field":"y","type":"quantitative","scale":{"domain":[0.14,19.93],"nice":false,"zero":false},"axis":null},"fill":{"field":"v","type":"quantitative","scale":{"type":"threshold","domain":[-9,-8,-7,-6,-5,-4,-3,-2,-1,0,1,2,3,4,5,6,7,8,9],"range":["#0000a0","#0000e0","#0000ff","#0050ff","#0090ff","#30c0ff","#60ffff","#80ffff","#b0ffff","#e0ffff","#ffffe8","#ffffb0","#ffff80","#ffff50","#ffd030","#ffa010","#ff6000","#ff2000","#e00000","#a00000"]},"legend":null}}},
{"data":{"name":"polys"},"transform":[{"window":[{"op":"row_number","as":"i"}]},{"filter":"indexof(['base','A','B','C'],datum.k)<0"}],"mark":{"type":"line","filled":true,"strokeWidth":0,"interpolate":"cardinal-closed","clip":true},"encoding":{"order":{"field":"i","type":"quantitative"},"detail":{"field":"k"},"x":{"field":"x","type":"quantitative","scale":{"domain":[0,50],"nice":false,"zero":false},"axis":null},"y":{"field":"y","type":"quantitative","scale":{"domain":[0.14,19.93],"nice":false,"zero":false},"axis":null},"fill":{"field":"v","type":"quantitative","scale":{"type":"threshold","domain":[-9,-8,-7,-6,-5,-4,-3,-2,-1,0,1,2,3,4,5,6,7,8,9],"range":["#0000a0","#0000e0","#0000ff","#0050ff","#0090ff","#30c0ff","#60ffff","#80ffff","#b0ffff","#e0ffff","#ffffe8","#ffffb0","#ffff80","#ffff50","#ffd030","#ffa010","#ff6000","#ff2000","#e00000","#a00000"]},"legend":null}}},
{"data":{"name":"polys"},"transform":[{"window":[{"op":"row_number","as":"i"}]},{"filter":{"field":"k","oneOf":["A","B","C"]}}],"mark":{"type":"line","color":"black","strokeWidth":2,"strokeJoin":"miter"},"encoding":{"order":{"field":"i","type":"quantitative"},"detail":{"field":"k"},"x":{"field":"x","type":"quantitative","scale":{"domain":[0,50],"nice":false,"zero":false},"axis":null},"y":{"field":"y","type":"quantitative","scale":{"domain":[0.14,19.93],"nice":false,"zero":false},"axis":null}}},
{"data":{"name":"polys"},"transform":[{"window":[{"op":"row_number","as":"i"}]},{"filter":{"field":"k","oneOf":["I1","I2","I3","I4","I5"]}}],"mark":{"type":"line","color":"black","strokeWidth":2,"interpolate":"cardinal-closed"},"encoding":{"order":{"field":"i","type":"quantitative"},"detail":{"field":"k"},"x":{"field":"x","type":"quantitative","scale":{"domain":[0,50],"nice":false,"zero":false},"axis":null},"y":{"field":"y","type":"quantitative","scale":{"domain":[0.14,19.93],"nice":false,"zero":false},"axis":null}}},
{"data":{"name":"polys"},"transform":[{"window":[{"op":"row_number","as":"i"}]},{"filter":{"field":"k","oneOf":["d5","c5"]}}],"mark":{"type":"line","color":"black","strokeWidth":1,"interpolate":"cardinal-closed"},"encoding":{"order":{"field":"i","type":"quantitative"},"detail":{"field":"k"},"x":{"field":"x","type":"quantitative","scale":{"domain":[0,50],"nice":false,"zero":false},"axis":null},"y":{"field":"y","type":"quantitative","scale":{"domain":[0.14,19.93],"nice":false,"zero":false},"axis":null}}},
{"data":{"name":"polys"},"transform":[{"window":[{"op":"row_number","as":"i"}]},{"filter":{"field":"k","oneOf":["R5","M5"]}}],"mark":{"type":"line","color":"black","strokeWidth":1,"strokeDash":[4,3],"interpolate":"cardinal-closed"},"encoding":{"order":{"field":"i","type":"quantitative"},"detail":{"field":"k"},"x":{"field":"x","type":"quantitative","scale":{"domain":[0,50],"nice":false,"zero":false},"axis":null},"y":{"field":"y","type":"quantitative","scale":{"domain":[0.14,19.93],"nice":false,"zero":false},"axis":null}}},
{"data":{"name":"loops"},"transform":[{"window":[{"op":"row_number","as":"i"}]}],"mark":{"type":"line","color":"black","strokeWidth":1},"encoding":{"order":{"field":"i","type":"quantitative"},"detail":{"field":"k"},"x":{"field":"x","type":"quantitative","scale":{"domain":[0,50],"nice":false,"zero":false},"axis":null},"y":{"field":"y","type":"quantitative","scale":{"domain":[0.14,19.93],"nice":false,"zero":false},"axis":null}}},
{"data":{"name":"labels"},"mark":{"type":"text","fontSize":12,"fontWeight":"bold","stroke":"#f2fff0","strokeWidth":4,"fill":"#f2fff0"},"encoding":{"text":{"field":"t"},"angle":{"field":"a","type":"quantitative","scale":null},"x":{"field":"x","type":"quantitative","scale":{"domain":[0,50],"nice":false,"zero":false},"axis":null},"y":{"field":"y","type":"quantitative","scale":{"domain":[0.14,19.93],"nice":false,"zero":false},"axis":null}}},
{"data":{"name":"labels"},"mark":{"type":"text","fontSize":12,"fontWeight":"bold","color":"black"},"encoding":{"text":{"field":"t"},"angle":{"field":"a","type":"quantitative","scale":null},"x":{"field":"x","type":"quantitative","scale":{"domain":[0,50],"nice":false,"zero":false},"axis":null},"y":{"field":"y","type":"quantitative","scale":{"domain":[0.14,19.93],"nice":false,"zero":false},"axis":null}}},
{"data":{"name":"notes"},"transform":[{"filter":"datum.al=='center'"}],"mark":{"type":"text","fontSize":12,"fontWeight":"bold","color":"black","align":"center"},"encoding":{"text":{"field":"t"},"x":{"field":"x","type":"quantitative","scale":{"domain":[0,50],"nice":false,"zero":false},"axis":null},"y":{"field":"y","type":"quantitative","scale":{"domain":[0.14,19.93],"nice":false,"zero":false},"axis":null}}},
{"data":{"name":"notes"},"transform":[{"filter":"datum.al=='left'"}],"mark":{"type":"text","fontSize":12,"color":"black","align":"left"},"encoding":{"text":{"field":"t"},"x":{"field":"x","type":"quantitative","scale":{"domain":[0,50],"nice":false,"zero":false},"axis":null},"y":{"field":"y","type":"quantitative","scale":{"domain":[0.14,19.93],"nice":false,"zero":false},"axis":null}}},
{"data":{"name":"frame"},"mark":{"type":"point","opacity":0},"encoding":{"x":{"field":"x","type":"quantitative","scale":{"domain":[0,50],"nice":false,"zero":false},"axis":{"orient":"bottom","values":[5,10,15,20,25,30,35,40,45],"title":"X coordinate","titleFontSize":17,"titleFontWeight":"normal","titlePadding":21,"labelFontSize":12,"labelFontWeight":"bold","labelPadding":13,"tickSize":-6,"tickWidth":2,"tickColor":"black","domainColor":"black","domainWidth":2.5,"zindex":1,"grid":false}},"y":{"field":"y","type":"quantitative","scale":{"domain":[0.14,19.93],"nice":false,"zero":false},"axis":{"orient":"left","values":[5,10,15],"title":"Time","titleFontSize":17,"titleFontWeight":"normal","titlePadding":7,"labelFontSize":12,"labelFontWeight":"bold","labelPadding":13,"tickSize":-6,"tickWidth":2,"tickColor":"black","domainColor":"black","domainWidth":2.5,"zindex":1,"grid":false}}}},
{"data":{"name":"frame"},"mark":{"type":"point","opacity":0},"encoding":{"x":{"field":"x","type":"quantitative","scale":{"domain":[0,50],"nice":false,"zero":false},"axis":{"orient":"bottom","values":[1,2,3,4,6,7,8,9,11,12,13,14,16,17,18,19,21,22,23,24,26,27,28,29,31,32,33,34,36,37,38,39,41,42,43,44,46,47,48,49],"title":null,"labels":false,"domain":false,"tickSize":-3,"tickWidth":1.5,"tickColor":"black","zindex":1,"grid":false}},"y":{"field":"y","type":"quantitative","scale":{"domain":[0.14,19.93],"nice":false,"zero":false},"axis":{"orient":"left","values":[1,2,3,4,6,7,8,9,11,12,13,14,16,17,18,19],"title":null,"labels":false,"domain":false,"tickSize":-3,"tickWidth":1.5,"tickColor":"black","zindex":1,"grid":false}}}},
{"data":{"name":"frame"},"mark":{"type":"point","opacity":0},"encoding":{"x":{"field":"x","type":"quantitative","scale":{"domain":[0,50],"nice":false,"zero":false},"axis":{"orient":"top","values":[5,10,15,20,25,30,35,40,45],"title":null,"labels":false,"tickSize":-6,"tickWidth":2,"tickColor":"black","domainColor":"black","domainWidth":2.5,"zindex":1,"grid":false}},"y":{"field":"y","type":"quantitative","scale":{"domain":[0.14,19.93],"nice":false,"zero":false},"axis":{"orient":"right","values":[5,10,15],"title":null,"labels":false,"tickSize":-6,"tickWidth":2,"tickColor":"black","domainColor":"black","domainWidth":2.5,"zindex":1,"grid":false}}}},
{"data":{"name":"frame"},"mark":{"type":"point","opacity":0},"encoding":{"x":{"field":"x","type":"quantitative","scale":{"domain":[0,50],"nice":false,"zero":false},"axis":{"orient":"top","values":[1,2,3,4,6,7,8,9,11,12,13,14,16,17,18,19,21,22,23,24,26,27,28,29,31,32,33,34,36,37,38,39,41,42,43,44,46,47,48,49],"title":null,"labels":false,"domain":false,"tickSize":-3,"tickWidth":1.5,"tickColor":"black","zindex":1,"grid":false}},"y":{"field":"y","type":"quantitative","scale":{"domain":[0.14,19.93],"nice":false,"zero":false},"axis":{"orient":"right","values":[1,2,3,4,6,7,8,9,11,12,13,14,16,17,18,19],"title":null,"labels":false,"domain":false,"tickSize":-3,"tickWidth":1.5,"tickColor":"black","zindex":1,"grid":false}}}}
]},
{"width":328,"height":14,"data":{"name":"bar"},"title":{"text":"CONTOUR INTERVAL = 5.000E-04","fontSize":11.5,"fontWeight":"bold","anchor":"middle","frame":"group","offset":11},"mark":{"type":"rect","stroke":"black","strokeWidth":2},"encoding":{"x":{"field":"a","type":"quantitative","scale":{"domain":[-10,10],"nice":false,"zero":false},"axis":{"values":[-8,-4,0,4,8],"title":null,"domain":false,"ticks":false,"grid":false,"labelFontSize":11,"labelFontWeight":"bold","labelPadding":2,"labelExpr":"datum.value==0?'0':(datum.value<0?'−':'')+abs(datum.value)+'e−4'"}},"x2":{"field":"b"},"color":{"field":"v","type":"quantitative","scale":{"type":"threshold","domain":[-9,-8,-7,-6,-5,-4,-3,-2,-1,0,1,2,3,4,5,6,7,8,9],"range":["#0000a0","#0000e0","#0000ff","#0050ff","#0090ff","#30c0ff","#60ffff","#80ffff","#b0ffff","#e0ffff","#ffffe8","#ffffb0","#ffff80","#ffff50","#ffd030","#ffa010","#ff6000","#ff2000","#e00000","#a00000"]},"legend":null}}}
]}
